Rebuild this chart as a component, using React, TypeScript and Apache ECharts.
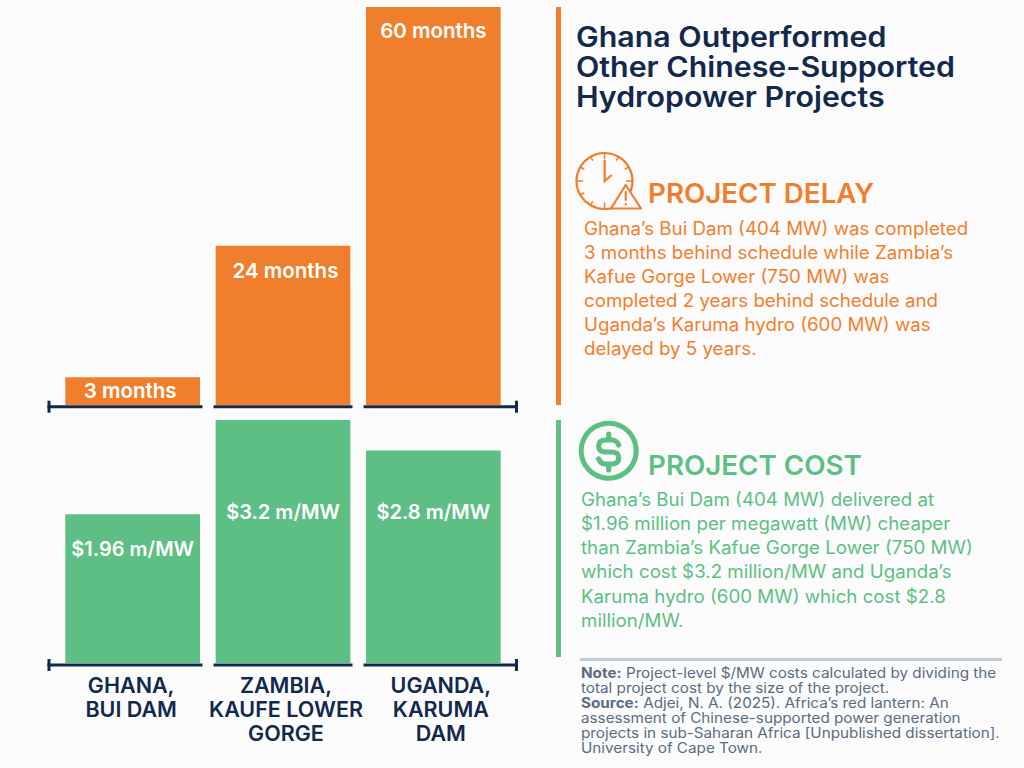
import React, { useEffect, useRef } from "react";
import * as echarts from "echarts";

const categories = ["GHANA,\nBUI DAM", "ZAMBIA,\nKAUFE LOWER\nGORGE", "UGANDA,\nKARUMA\nDAM"];
const delayBarHeights = [4.2, 24, 60];
const delayLabels = ["3 months", "24 months", "60 months"];
const delayLabelDistance = [3, 14, 13];
const delayLabelShift = [-2.5, 2.5, 0];
const costValues = [1.96, 3.2, 2.8];
const costLabels = ["$1.96 m/MW", "$3.2 m/MW", "$2.8 m/MW"];
const costLabelDistance = [25, 82, 52];
const costLabelShift = [0, 0, 0];

const titleLines = ["Ghana Outperformed", "Other Chinese-Supported", "Hydropower Projects"];
const delayLines = [
  "Ghana’s Bui Dam (404 MW) was completed",
  "3 months behind schedule while Zambia’s",
  "Kafue Gorge Lower (750 MW) was",
  "completed 2 years behind schedule and",
  "Uganda’s Karuma hydro (600 MW) was",
  "delayed by 5 years.",
];
const costLines = [
  "Ghana’s Bui Dam (404 MW) delivered at",
  "$1.96 million per megawatt (MW) cheaper",
  "than Zambia’s Kafue Gorge Lower (750 MW)",
  "which cost $3.2 million/MW and Uganda’s",
  "Karuma hydro (600 MW) which cost $2.8",
  "million/MW.",
];
const noteLines = [
  "{b|Note:} Project-level $/MW costs calculated by dividing the",
  "total project cost by the size of the project.",
  "{b|Source:} Adjei, N. A. (2025). Africa’s red lantern: An",
  "assessment of Chinese-supported power generation",
  "projects in sub-Saharan Africa [Unpublished dissertation].",
  "University of Cape Town.",
];

const ORANGE = "#F07F2D";
const GREEN = "#5DBF84";
const NAVY = "#12294B";
const SLATE = "#5A6B82";
const BG = "#FBFBFB";
const FONT = "Inter";

echarts.graphic.registerShape(
  "dollarS",
  echarts.graphic.extendPath(
    "M10 -7 Q8 -12 3 -12 L-3 -12 Q-10 -12 -10 -6 Q-10 0 -3 0 L3 0 Q10 0 10 6 Q10 12 3 12 L-3 12 Q-8 12 -10 7 M0 -18 L0 -12 M0 12 L0 18",
    {}
  ) as any
);

const textEl = (
  text: string,
  x: number,
  y: number,
  fill: string,
  fontSize: number,
  fontWeight: number,
  scaleX: number,
  rich?: any
) => ({
  type: "text",
  x,
  y,
  scaleX,
  style: { text, fill, fontSize, fontWeight, fontFamily: FONT, verticalAlign: "middle", rich },
});

const rect = (x: number, y: number, width: number, height: number, fill: string) => ({
  type: "rect",
  shape: { x, y, width, height },
  style: { fill },
});

const seg = (x1: number, y1: number, x2: number, y2: number, stroke: string, lineWidth: number) => ({
  type: "line",
  shape: { x1, y1, x2, y2 },
  style: { stroke, lineWidth, lineCap: "round" },
});

const axisRule = (y: number) => [
  rect(47.5, y - 1.5, 155, 3, NAVY),
  rect(213.5, y - 1.5, 139, 3, NAVY),
  rect(363.5, y - 1.5, 154.5, 3, NAVY),
  rect(47.5, y - 6, 3, 12, NAVY),
  rect(515, y - 6, 3, 12, NAVY),
];

const clockTickHours = [0, 1, 2, 3, 6, 7, 8, 9, 10, 11];
const clockTicks = clockTickHours.map((i) => {
  const a = (i * Math.PI) / 6;
  const r0 = i % 3 === 0 ? 22 : 24;
  return seg(
    604.5 + r0 * Math.sin(a),
    181 - r0 * Math.cos(a),
    604.5 + 27 * Math.sin(a),
    181 - 27 * Math.cos(a),
    ORANGE,
    1.5
  );
});

const catStyle = (padding: number[]) => ({
  color: NAVY,
  fontFamily: FONT,
  fontSize: 21.5,
  fontWeight: 600,
  lineHeight: 24,
  padding,
});

export default function App() {
  const ref = useRef<HTMLDivElement>(null);
  useEffect(() => {
    document.body.style.margin = "0";
    document.body.style.background = BG;
    const chart = echarts.init(ref.current!, undefined, { renderer: "svg" });
    chart.setOption({
      animation: false,
      backgroundColor: BG,
      grid: [
        { left: 57.5, width: 451, top: 7, height: 398 },
        { left: 57.5, width: 451, top: 420, height: 243 },
      ],
      xAxis: [
        { type: "category", gridIndex: 0, data: categories, axisLine: { show: false }, axisTick: { show: false }, axisLabel: { show: false } },
        {
          type: "category",
          gridIndex: 1,
          data: categories,
          axisLine: { show: false },
          axisTick: { show: false },
          axisLabel: {
            color: NAVY,
            fontFamily: FONT,
            fontSize: 21.5,
            fontWeight: 600,
            lineHeight: 24,
            margin: 10,
            interval: 0,
            verticalAlign: "top",
            formatter: (value: string, index: number) =>
              value
                .split("\n")
                .map((line) => `{c${index}|${line}}`)
                .join("\n"),
            rich: {
              c0: catStyle([0, 3, 0, 0]),
              c1: catStyle([0, 0, 0, 6]),
              c2: catStyle([0, 0, 0, 15]),
            },
          },
        },
      ],
      yAxis: [
        { type: "value", gridIndex: 0, min: 0, max: 60, show: false },
        { type: "value", gridIndex: 1, min: 0, max: 3.2, show: false },
      ],
      series: [
        {
          type: "bar",
          xAxisIndex: 0,
          yAxisIndex: 0,
          barWidth: 134.7,
          itemStyle: { color: ORANGE },
          data: delayBarHeights.map((value, i) => ({
            value,
            label: {
              show: true,
              position: "insideTop",
              distance: delayLabelDistance[i],
              offset: [delayLabelShift[i], 0],
              formatter: delayLabels[i],
              color: "#FFFFFF",
              fontFamily: FONT,
              fontSize: 20.5,
              fontWeight: 600,
            },
          })),
        },
        {
          type: "bar",
          xAxisIndex: 1,
          yAxisIndex: 1,
          barWidth: 134.7,
          itemStyle: { color: GREEN },
          data: costValues.map((value, i) => ({
            value,
            label: {
              show: true,
              position: "insideTop",
              distance: costLabelDistance[i],
              offset: [costLabelShift[i], 0],
              formatter: costLabels[i],
              color: "#FFFFFF",
              fontFamily: FONT,
              fontSize: 20,
              fontWeight: 600,
            },
          })),
        },
      ],
      graphic: [
        ...axisRule(406.7),
        ...axisRule(665),
        rect(556, 7, 5, 398, ORANGE),
        rect(556, 420, 5, 237, GREEN),
        rect(580, 658, 422, 3, "#C0CCD6"),
        ...titleLines.map((t, i) => textEl(t, 576, 37 + i * 30, NAVY, 28, 600, 1.084)),
        { type: "circle", shape: { cx: 604.5, cy: 181, r: 28 }, style: { fill: "none", stroke: ORANGE, lineWidth: 2.2 } },
        ...clockTicks,
        { type: "polyline", shape: { points: [[604.7, 160], [604.7, 181], [611.7, 175]] }, style: { fill: "none", stroke: ORANGE, lineWidth: 2.2 } },
        {
          type: "polygon",
          shape: { points: [[625.7, 185], [641, 208.5], [611, 208.5]] },
          style: { fill: BG, stroke: ORANGE, lineWidth: 2.2, lineJoin: "round" },
        },
        seg(625.7, 192, 625.7, 200, ORANGE, 2.2),
        seg(625.7, 204, 625.7, 204.5, ORANGE, 2.2),
        textEl("PROJECT DELAY", 648, 193.5, ORANGE, 27, 600, 1.027),
        ...delayLines.map((t, i) => textEl(t, 584, 228 + i * 24, ORANGE, 18, 400, 1.04)),
        { type: "circle", shape: { cx: 608.7, cy: 450.7, r: 27.5 }, style: { fill: "none", stroke: GREEN, lineWidth: 5 } },
        {
          type: "dollarS",
          x: 608.7,
          y: 452,
          style: { fill: "none", stroke: GREEN, lineWidth: 5.2, lineCap: "round" },
        },
        textEl("PROJECT COST", 648, 465, GREEN, 27, 600, 1.027),
        ...costLines.map((t, i) => textEl(t, 581, 499 + i * 24.2, GREEN, 18, 400, 1.04)),
        ...noteLines.map((t, i) =>
          textEl(t, 581, 673 + i * 15, SLATE, 14, 400, 1.09, { b: { fontWeight: 700, color: NAVY, fontSize: 14, fontFamily: FONT } })
        ),
      ],
    });
    return () => chart.dispose();
  }, []);
  return <div ref={ref} style={{ position: "absolute", left: 0, top: 0, width: 1024, height: 768 }} />;
}
